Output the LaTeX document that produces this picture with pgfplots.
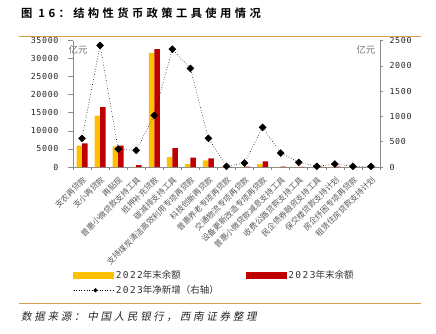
\documentclass[border=0pt]{standalone}
\usepackage{fontspec}
\usepackage{pgfplots}
\pgfplotsset{compat=1.18}
\setmainfont{Noto Sans CJK SC}
\newfontfamily\cjk{Noto Sans CJK SC}
\newfontfamily\tickfont[LetterSpace=8]{DejaVu Sans Mono}
\newfontfamily\legmono[LetterSpace=15]{DejaVu Sans Mono}
\newfontfamily\titlefont[LetterSpace=30]{Noto Sans CJK SC Bold}
\newfontfamily\srcfont[LetterSpace=26,FakeSlant=0.2]{Noto Sans CJK SC}
\definecolor{barY}{HTML}{FFC000}
\definecolor{barR}{HTML}{C00000}
\definecolor{rulec}{HTML}{D9A04A}
\definecolor{axc}{HTML}{8C8C8C}
\begin{document}
\begin{tikzpicture}[x=1pt,y=1pt]
\useasboundingbox (0,0) rectangle (436,333);
\draw[rulec, line width=0.9pt] (19,297) -- (421,297);
\draw[rulec, line width=0.9pt] (19,30) -- (421,30);
\node[anchor=west, inner sep=0pt, font=\titlefont\fontsize{11.3}{11.3}\selectfont, text=black] at (21,319.5) {图 16：结构性货币政策工具使用情况};
\node[anchor=west, inner sep=0pt, font=\srcfont\fontsize{10.5}{10.5}\selectfont, text=black!85] at (21,16) {数据来源：中国人民银行，西南证券整理};

\begin{axis}[
  at={(73pt,166pt)}, anchor=south west,
  scale only axis, width=307pt, height=126.5pt,
  ybar=0pt, bar width=5.5pt,
  xmin=-0.5, xmax=16.5, ymin=0, ymax=35000,
  enlargelimits=false,
  axis y line*=left, axis x line*=bottom,
  axis line style={axc, line width=0.6pt},
  ytick={0,5000,...,35000},
  xtick={0,...,16},
  xticklabels={支农再贷款,支小再贷款,再贴现,普惠小微贷款支持工具,抵押补充贷款,碳减排支持工具,支持煤炭清洁高效利用专项再贷款,科技创新再贷款,普惠养老专项再贷款,交通物流专项再贷款,设备更新改造专项再贷款,普惠小微贷款减息支持工具,收费公路贷款支持工具,民企债券融资支持工具,保交楼贷款支持计划,房企纾困专项再贷款,租赁住房贷款支持计划},
  x tick label style={yshift=-2pt, rotate=45, anchor=north east, inner sep=1pt, font=\cjk\fontsize{8}{8}\selectfont, text=black!65},
  major x tick style={draw=none},
  minor xtick={-0.5,0.5,...,16.5},
  minor x tick style={axc, line width=0.6pt},
  minor tick length=3pt,
  major tick length=5pt,
  tick align=outside,
  ytick style={axc, line width=0.6pt},
  yticklabel style={font=\tickfont\fontsize{8.3}{8.3}\selectfont, text=black!85, xshift=-6pt},
  /pgf/number format/assume math mode=true,
  /pgf/number format/1000 sep={},
  scaled y ticks=false,
  clip=false,
]
\addplot[fill=barY, draw=none] coordinates {(0,5900) (1,14190) (2,5700) (3,60) (4,31600) (5,2760) (6,830) (7,1800) (8,20) (9,60) (10,830) (11,30) (12,20) (13,40) (14,60) (15,20) (16,10)};
\addplot[fill=barR, draw=none] coordinates {(0,6540) (1,16580) (2,5900) (3,550) (4,32600) (5,5250) (6,2580) (7,2400) (8,60) (9,120) (10,1570) (11,120) (12,30) (13,90) (14,100) (15,30) (16,20)};
\end{axis}

\begin{axis}[
  at={(73pt,166pt)}, anchor=south west,
  scale only axis, width=307pt, height=126.5pt,
  xmin=-0.5, xmax=16.5, ymin=0, ymax=2500,
  enlargelimits=false,
  axis y line*=right, axis x line=none,
  axis line style={axc, line width=0.6pt},
  ytick={0,500,...,2500},
  tick align=outside, major tick length=3pt,
  ytick style={axc, line width=0.6pt},
  yticklabel style={font=\tickfont\fontsize{8.3}{8.3}\selectfont, text=black!85, xshift=3pt},
  /pgf/number format/assume math mode=true,
  /pgf/number format/1000 sep={},
  scaled y ticks=false,
  clip=false,
  legend columns=2,
  legend cell align=left,
  legend style={at={(0,-0.80)}, anchor=north west, draw=none, fill=none,
    font=\cjk\fontsize{9.5}{11}\selectfont, text=black!80,
    inner sep=0pt, row sep=1.5pt,
    /tikz/every even column/.append style={column sep=25pt}},
]
\addlegendimage{legend image code/.code={\fill[barY] (0pt,-2.7pt) rectangle (40pt,2.7pt);}}
\addlegendentry{{\legmono 2022}年末余额}
\addlegendimage{legend image code/.code={\fill[barR] (0pt,-2.7pt) rectangle (40pt,2.7pt);}}
\addlegendentry{{\legmono 2023}年末余额}
\addplot[black, dotted, line width=0.6pt, mark=square*, mark size=2.4pt, mark options={solid, rotate=45, fill=black},
  legend image code/.code={\draw[black, dotted, line width=0.6pt] (0pt,0pt) -- (40pt,0pt); \fill[black] (22pt,2.2pt) -- (24.2pt,0pt) -- (22pt,-2.2pt) -- (19.8pt,0pt) -- cycle;}]
  coordinates {(0,566) (1,2402) (2,355) (3,329) (4,1020) (5,2329) (6,1948) (7,566) (8,13) (9,79) (10,783) (11,276) (12,92) (13,13) (14,59) (15,13) (16,13)};
\addlegendentry{{\legmono 2023}年净新增（右轴）}
\node[font=\cjk\fontsize{9.5}{9.5}\selectfont, text=black!55, anchor=north] at (rel axis cs:0.017,0.985) {亿元};
\node[font=\cjk\fontsize{9.5}{9.5}\selectfont, text=black!55, anchor=north] at (rel axis cs:0.954,0.985) {亿元};
\end{axis}
\end{tikzpicture}
\end{document}
